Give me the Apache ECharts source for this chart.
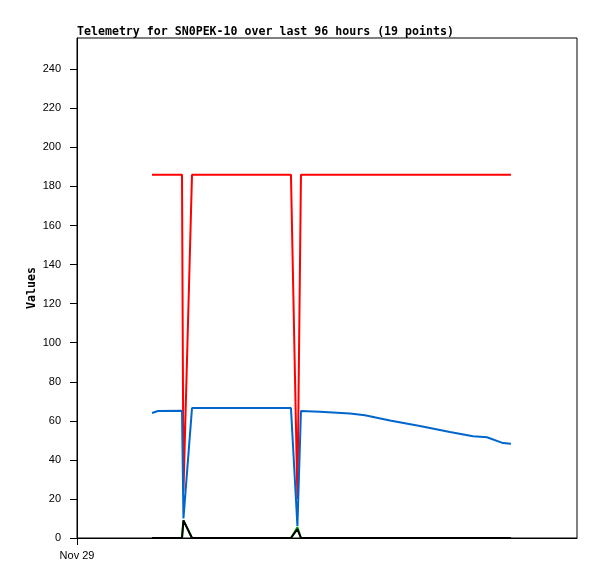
<!DOCTYPE html>
<html>
<head>
<meta charset="utf-8">
<script src="https://cdn.jsdelivr.net/npm/echarts@6/dist/echarts.min.js"></script>
<style>
html,body{margin:0;padding:0;background:#fff;}
#chart{width:597px;height:579px;}
</style>
</head>
<body>
<div id="chart"></div>
<script>
// hours since Nov 29 00:00
var times = [3.60, 3.89, 5.04, 5.11, 5.52, 7.82, 10.27, 10.58, 10.75, 11.66, 13.10, 13.82, 15.02, 16.46, 17.90, 19.01, 19.68, 20.45, 20.83];
var redValues   = [186, 186, 186, 24, 186, 186, 186, 20, 186, 186, 186, 186, 186, 186, 186, 186, 186, 186, 186];
var blueValues  = [64.0, 65.0, 65.2, 10, 66.5, 66.5, 66.5, 6, 65.0, 64.6, 63.7, 62.8, 60.2, 57.3, 54.3, 52.1, 51.6, 48.6, 48.3];
var greenValues = [0, 0, 0, 9, 0, 0, 0, 5.5, 0, 0, 0, 0, 0, 0, 0, 0, 0, 0, 0];
var blackValues = [0, 0, 0, 9, 0, 0, 0, 4.5, 0, 0, 0, 0, 0, 0, 0, 0, 0, 0, 0];
var yTicks = [0, 20, 40, 60, 80, 100, 120, 140, 160, 180, 200, 220, 240];
var xTicks = [0];
var xTickLabels = ['Nov 29'];
var titleText = 'Telemetry for SN0PEK-10 over last 96 hours (19 points)';

function pairs(vals) { return times.map(function (t, i) { return [t, vals[i]]; }); }
function mk(name, vals, color) {
  return { name: name, type: 'line', data: pairs(vals), symbol: 'none', animation: false,
    lineStyle: { color: color, width: 2 }, itemStyle: { color: color } };
}

var chart = echarts.init(document.getElementById('chart'), null, { renderer: 'canvas' });
chart.setOption({
  animation: false,
  backgroundColor: '#ffffff',
  title: {
    text: titleText, left: 72, top: 21,
    textStyle: { fontFamily: 'DejaVu Sans Mono', fontWeight: 'bold', fontSize: 11.6, color: '#000' }
  },
  grid: { left: 77, right: 20, top: 38, bottom: 41, show: true, borderColor: '#000', borderWidth: 1, backgroundColor: 'transparent' },
  xAxis: {
    type: 'value', min: 0, max: 24,
    axisLine: { show: true, onZero: false, lineStyle: { color: '#000', width: 1 } },
    axisTick: { show: true, length: 7, customValues: xTicks, lineStyle: { color: '#000' } },
    axisLabel: { show: true, customValues: xTicks, margin: 12, color: '#000', fontFamily: 'Liberation Sans', fontSize: 11,
      formatter: function (v) { var i = xTicks.indexOf(v); return i >= 0 ? xTickLabels[i] : ''; } },
    splitLine: { show: false }
  },
  yAxis: {
    type: 'value', min: 0, max: 256,
    name: 'Values', nameLocation: 'middle', nameRotate: 90, nameGap: 39, nameMoveOverlap: false,
    nameTextStyle: { fontFamily: 'DejaVu Sans Mono', fontWeight: 'bold', fontSize: 11.6, color: '#000' },
    axisLine: { show: true, lineStyle: { color: '#000', width: 1 } },
    axisTick: { show: true, length: 7, customValues: yTicks, lineStyle: { color: '#000' } },
    axisLabel: { show: true, customValues: yTicks, margin: 16, color: '#000', fontFamily: 'Liberation Sans', fontSize: 11 },
    splitLine: { show: false }
  },
  series: [
    mk('red', redValues, '#ff0000'),
    mk('blue', blueValues, '#0066cc'),
    mk('green', greenValues, '#00aa00'),
    mk('black', blackValues, '#000000')
  ]
});
</script>
</body>
</html>
